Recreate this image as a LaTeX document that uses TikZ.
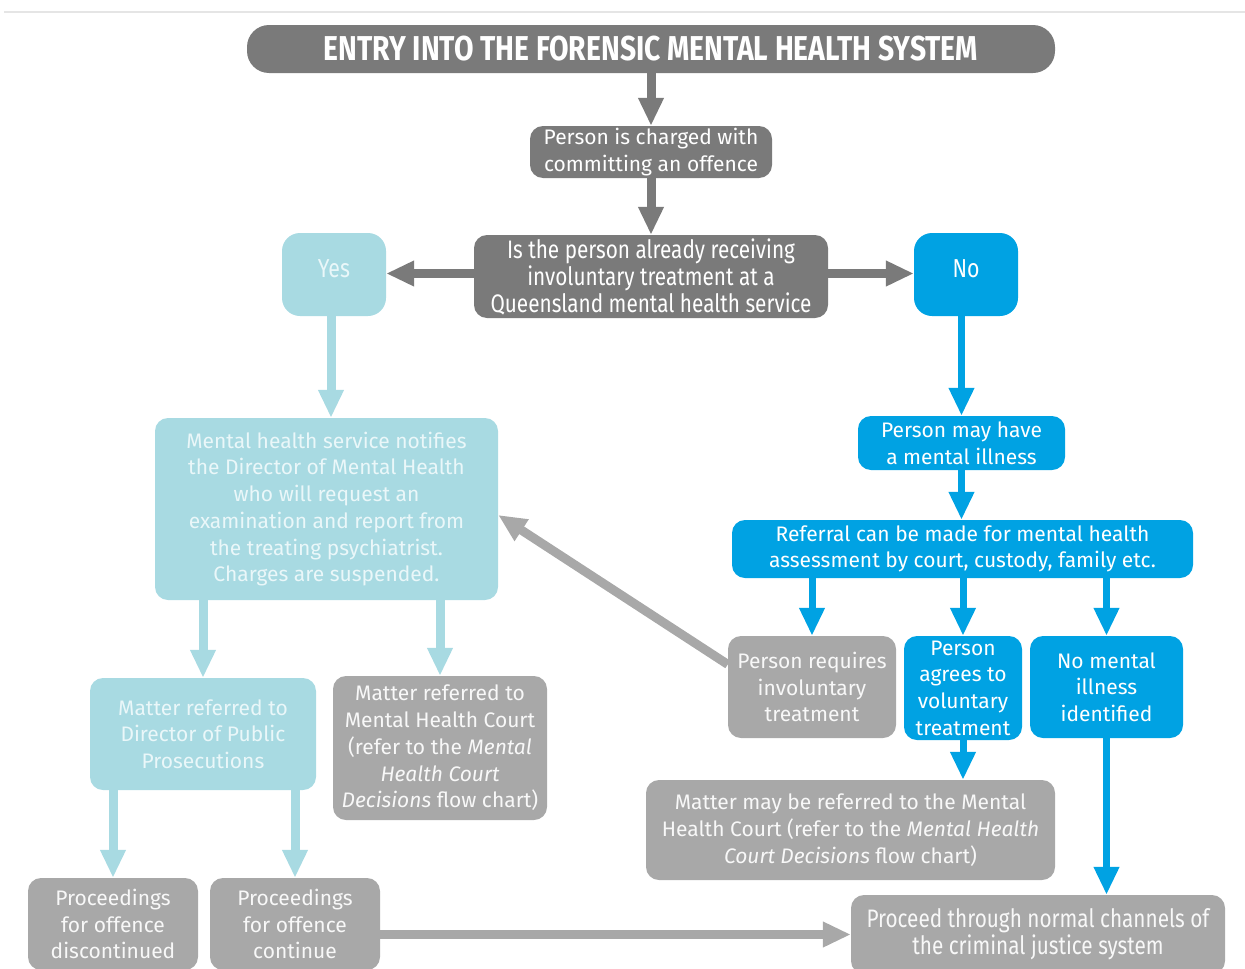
\documentclass[tikz,border=0pt]{standalone}
\usepackage{fontspec}
\setmainfont{Fira Sans}
\newfontfamily\condfont{Fira Sans}[FakeStretch=0.82]
\usetikzlibrary{arrows.meta,calc}
\definecolor{dgray}{RGB}{122,122,122}
\definecolor{lgray}{RGB}{168,168,168}
\definecolor{lcyan}{RGB}{168,218,226}
\definecolor{mblue}{RGB}{0,162,227}
\definecolor{cyantext}{RGB}{234,247,249}
\definecolor{graytext}{RGB}{248,248,248}
\tikzset{
  box/.style={rounded corners=13pt, inner sep=0pt, align=center, text=graytext,
    font=\fontsize{21}{26.7}\selectfont},
  darkbox/.style={box, fill=dgray, text=white},
  greybox/.style={box, fill=lgray},
  cyanbox/.style={box, fill=lcyan, text=cyantext},
  bluebox/.style={box, fill=mblue, text=white},
  cond/.style={font=\condfont\fontsize{25.3}{27}\selectfont},
  yn/.style={font=\condfont\fontsize{26}{28}\selectfont, rounded corners=18pt,
    minimum width=104, minimum height=83},
  arr/.style={line width=9pt, -{Triangle[width=24pt,length=28pt]}},
  darr/.style={arr, dgray},
  garr/.style={arr, lgray},
  carr/.style={arr, lcyan},
  barr/.style={arr, mblue, line width=7pt},
}
\begin{document}
\begin{tikzpicture}[x=1pt,y=-1pt]
\useasboundingbox (0,0) rectangle (1245,969);
\draw[black!10, line width=2pt] (4,12) -- (1245,12);

\node[darkbox, rounded corners=22pt, minimum width=808, minimum height=48,
  font=\condfont\bfseries\fontsize{34.5}{38}\selectfont] (title) at (651,49)
  {ENTRY INTO THE FORENSIC MENTAL HEALTH SYSTEM};
\node[darkbox, minimum width=242, minimum height=52] (charged) at (651,152)
  {Person is charged with\\committing an offence};
\node[darkbox, cond, minimum width=354, minimum height=83] (question) at (651,276.5)
  {Is the person already receiving\\involuntary treatment at a\\Queensland mental health service};
\node[cyanbox, yn] (yes) at (334,274.5) {Yes\\[-24pt]\strut};
\node[bluebox, yn] (no) at (966,274.5) {No\\[-24pt]\strut};

\node[cyanbox, minimum width=343, minimum height=182] (mhs) at (326.5,509)
  {Mental health service notifies\\the Director of Mental Health\\who will request an\\examination and report from\\the treating psychiatrist.\\Charges are suspended.};
\node[bluebox, minimum width=207, minimum height=54] (maybe) at (961.5,443)
  {Person may have\\a mental illness};
\node[bluebox, minimum width=461, minimum height=58] (referral) at (962.5,549)
  {Referral can be made for mental health\\assessment by court, custody, family etc.};
\node[greybox, minimum width=168, minimum height=102] (preq) at (812,687)
  {Person requires\\involuntary\\treatment};
\node[bluebox, minimum width=118, minimum height=104] (agree) at (963,688)
  {Person\\agrees to\\voluntary\\treatment};
\node[bluebox, minimum width=153, minimum height=102] (nomi) at (1106.5,687)
  {No mental\\illness\\identified};
\node[greybox, minimum width=409, minimum height=100] (mayref) at (850.5,830)
  {Matter may be referred to the Mental\\Health Court (refer to the \textit{Mental Health}\\\textit{Court Decisions} flow chart)};
\node[greybox, cond, minimum width=374, minimum height=79] (proceed) at (1038,934.5)
  {Proceed through normal channels of\\the criminal justice system};
\node[cyanbox, minimum width=226, minimum height=112] (dpp) at (203,734)
  {Matter referred to\\Director of Public\\Prosecutions};
\node[greybox, minimum width=214, minimum height=144] (mhc) at (440,748)
  {Matter referred to\\Mental Health Court\\(refer to the \textit{Mental}\\\textit{Health Court}\\\textit{Decisions} flow chart)};
\node[greybox, minimum width=170, minimum height=92] (disc) at (113,924)
  {Proceedings\\for offence\\discontinued};
\node[greybox, minimum width=170, minimum height=92] (cont) at (295,924)
  {Proceedings\\for offence\\continue};

\draw[darr] (title.south) -- (charged.north);
\draw[darr] (charged.south) -- (question.north);
\draw[darr] ($(question.west)+(0,-3)$) -- ($(question.west -| yes.east)+(0,-3)$);
\draw[darr] ($(question.east)+(0,-3)$) -- ($(question.east -| no.west)+(0,-3)$);
\draw[carr] ($(yes.south)+(-3,0)$) -- ($(yes.south |- mhs.north)+(-3,0)$);
\draw[barr] (maybe.north |- no.south) -- (maybe.north);
\draw[barr] (maybe.south) -- (maybe.south |- referral.north);
\draw[barr] (preq.north |- referral.south) -- (preq.north);
\draw[barr] (agree.north |- referral.south) -- (agree.north);
\draw[barr] (nomi.north |- referral.south) -- (nomi.north);
\draw[barr] (agree.south) -- (agree.south |- mayref.north);
\draw[barr] (nomi.south) -- (nomi.south |- proceed.north);
\draw[garr] (preq.165) -- ($(mhs.east)+(0,6)$);
\draw[carr] (dpp.north |- mhs.south) -- (dpp.north);
\draw[carr] (mhc.north |- mhs.south) -- (mhc.north);
\draw[carr] (disc.north |- dpp.south) -- (disc.north);
\draw[carr] (cont.north |- dpp.south) -- (cont.north);
\draw[garr] (proceed.west -| cont.east) -- (proceed.west);
\end{tikzpicture}
\end{document}
